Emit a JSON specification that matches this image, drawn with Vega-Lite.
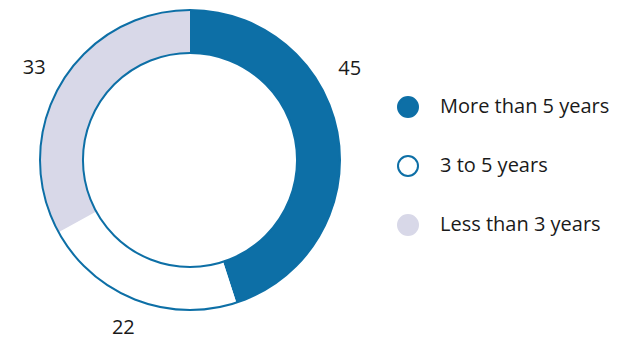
{
  "$schema": "https://vega.github.io/schema/vega-lite/v6.json",
  "width": 380,
  "height": 320,
  "padding": {"left": 0, "top": 0, "right": 243, "bottom": 22},
  "autosize": "none",
  "background": "white",
  "config": {"view": {"stroke": null}, "font": "Open Sans"},
  "data": {"values": [
    {"category": "More than 5 years", "value": 45, "order": 1},
    {"category": "3 to 5 years", "value": 22, "order": 2},
    {"category": "Less than 3 years", "value": 33, "order": 3}
  ]},
  "encoding": {
    "theta": {"field": "value", "type": "quantitative", "stack": true},
    "order": {"field": "order", "type": "quantitative"}
  },
  "layer": [
    {
      "mark": {"type": "arc", "outerRadius": 150, "innerRadius": 107, "strokeWidth": 0},
      "encoding": {
        "fill": {
          "field": "category", "type": "nominal",
          "scale": {"domain": ["More than 5 years", "3 to 5 years", "Less than 3 years"], "range": ["#0d6fa6", "#ffffff", "#d8d8e8"]},
          "legend": {
            "title": null, "orient": "none", "legendX": 397, "legendY": 96,
            "symbolType": "circle", "symbolSize": 400, "symbolStrokeWidth": 2,
            "labelFontSize": 20, "labelColor": "#1a1a1a", "labelOffset": 21, "labelLimit": 300,
            "rowPadding": 31, "labelFont": "Open Sans"
          }
        },
        "stroke": {
          "field": "category", "type": "nominal",
          "scale": {"domain": ["More than 5 years", "3 to 5 years", "Less than 3 years"], "range": ["#0d6fa6", "#0d6fa6", "#d8d8e8"]},
          "legend": null
        }
      }
    },
    {
      "data": {"values": [{"value": 100}]},
      "mark": {"type": "arc", "outerRadius": 150, "innerRadius": 107, "fill": null, "stroke": "#0d6fa6", "strokeWidth": 2},
      "encoding": {"theta": {"field": "value", "type": "quantitative"}, "order": null}
    },
    {
      "mark": {"type": "text", "radius": 181, "fontSize": 20, "color": "#1a1a1a", "font": "Open Sans"},
      "encoding": {
        "text": {"condition": {"test": "datum.value == 45", "value": ""}, "field": "value", "type": "quantitative"}
      }
    },
    {
      "mark": {"type": "text", "radius": 181, "dx": -19, "dy": -63, "fontSize": 20, "color": "#1a1a1a", "font": "Open Sans"},
      "encoding": {
        "text": {"condition": {"test": "datum.value != 45", "value": ""}, "field": "value", "type": "quantitative"}
      }
    }
  ]
}
